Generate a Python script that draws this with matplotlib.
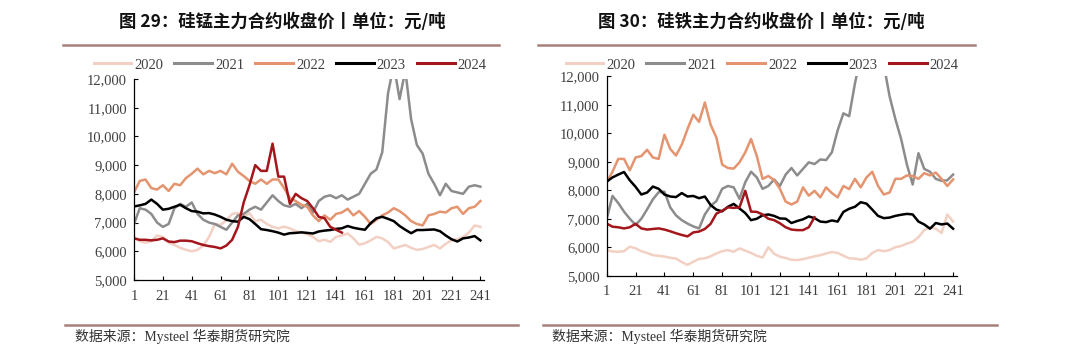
import numpy as np
import matplotlib
matplotlib.use("Agg")
import matplotlib.pyplot as plt
from matplotlib.ticker import FuncFormatter, FixedLocator
from matplotlib.lines import Line2D

# 交易日序号（每4个交易日取一个读数）
days = np.arange(1, 242, 4)
days_2024 = np.arange(1, 146, 4)
xticks = list(range(1, 242, 20))
yticks = list(range(5000, 12001, 1000))
years = ["2020", "2021", "2022", "2023", "2024"]

# 图29 硅锰
simn_2020 = [6500, 6350, 6300, 6350, 6550, 6500, 6300, 6220, 6120, 6050,
             6000, 6050, 6200, 6500, 6950, 6920, 7080, 7300, 7330, 7200,
             7330, 7050, 7100, 6950, 6850, 6800, 6860, 6800, 6700, 6650,
             6600, 6500, 6350, 6400, 6330, 6500, 6550, 6620, 6450, 6230,
             6280, 6380, 6500, 6450, 6320, 6100, 6160, 6220, 6120, 6050,
             6080, 6150, 6220, 6100, 6260, 6380, 6420, 6500, 6650, 6900,
             6850]
simn_2021 = [6950, 7500, 7450, 7300, 7000, 6850, 6950, 7500, 7650, 7550,
             7700, 7300, 7100, 7000, 6950, 6850, 6750, 7000, 7250, 7300,
             7450, 7550, 7450, 7700, 7950, 7750, 7600, 7550, 7650, 7500,
             7650, 7350, 7750, 7900, 7950, 7850, 7950, 7800, 7900, 8000,
             8350, 8700, 8850, 9450, 11500, 12500, 11300, 12300, 10600, 9700,
             9400, 8700, 8350, 7950, 8350, 8100, 8050, 8000, 8250, 8300,
             8250]
simn_2022 = [8050, 8450, 8500, 8200, 8150, 8300, 8100, 8350, 8300, 8550,
             8700, 8880, 8680, 8800, 8720, 8800, 8680, 9050, 8770, 8620,
             8450, 8350, 8500, 8350, 8500, 8500, 8200, 7850, 7750, 7620,
             7550, 7250, 7050, 7250, 7100, 7300, 7350, 7480, 7250, 7400,
             7200, 6950, 7100, 7250, 7350, 7500, 7400, 7250, 7050, 6950,
             6900, 7250, 7300, 7380, 7350, 7500, 7550, 7300, 7500, 7550,
             7750]
simn_2023 = [7560, 7600, 7650, 7800, 7650, 7450, 7480, 7550, 7620, 7500,
             7400, 7380, 7320, 7330, 7280, 7200, 7100, 7050, 7030, 7200,
             7120, 6950, 6770, 6740, 6700, 6650, 6580, 6630, 6640, 6660,
             6640, 6620, 6690, 6720, 6740, 6780, 6800, 6880, 6820, 6780,
             6750, 6980, 7150, 7200, 7130, 7050, 6880, 6750, 6630, 6740,
             6740, 6750, 6760, 6700, 6550, 6420, 6340, 6450, 6480, 6530,
             6380]
simn_2024 = [6450, 6400, 6400, 6380, 6400, 6450, 6340, 6320, 6370, 6370,
             6350, 6280, 6220, 6180, 6150, 6100, 6200, 6400, 6850, 7700,
             8300, 9000, 8800, 8800, 9750, 8600, 8600, 7650, 8000, 7850,
             7750, 7500, 7200, 7150, 6850, 6750, 6650]

# 图30 硅铁
fesi_2020 = [5900, 5850, 5840, 5860, 6020, 5960, 5860, 5800, 5720, 5700,
             5670, 5630, 5600, 5480, 5380, 5490, 5590, 5610, 5680, 5780,
             5860, 5900, 5840, 5960, 5880, 5800, 5700, 5640, 6000, 5770,
             5670, 5620, 5560, 5550, 5580, 5630, 5680, 5720, 5780, 5830,
             5800, 5700, 5610, 5600, 5560, 5610, 5800, 5900, 5860, 5900,
             6000, 6040, 6130, 6190, 6350, 6600, 6700, 6650, 6500, 7150,
             6900]
fesi_2021 = [6990, 7800, 7550, 7250, 7000, 6780, 7000, 7330, 7680, 7930,
             7950, 7400, 7120, 6950, 6830, 6730, 6660, 7150, 7450, 7620,
             8050, 8150, 8100, 7700, 8280, 8650, 8450, 8050, 8150, 8380,
             8150, 8550, 8780, 8520, 8750, 8980, 8920, 9080, 9060, 9330,
             10100, 10700, 10600, 11750, 12700, 13200, 13400, 13000, 12400, 11300,
             10500, 9800, 8900, 8200, 9300, 8750, 8650, 8400, 8330, 8350,
             8550]
fesi_2022 = [8280, 8650, 9100, 9100, 8700, 9150, 9200, 9420, 9150, 9100,
             9950, 9450, 9220, 9600, 10150, 10650, 10400, 11080, 10300, 9850,
             8900, 8780, 8760, 8980, 9330, 9800, 9200, 8400, 8500, 8350,
             8050, 7600, 7500, 7600, 8100, 7810, 7980, 7750, 8100, 7900,
             7750, 8150, 8040, 8400, 8100, 8450, 8650, 8150, 7850, 7920,
             8400, 8400, 8520, 8500, 8400, 8600, 8520, 8620, 8400, 8150,
             8380]
fesi_2023 = [8300, 8450, 8550, 8640, 8350, 8120, 7850, 7920, 8130, 8050,
             7850, 7780, 7760, 7900, 7780, 7800, 7720, 7780, 7480, 7320,
             7260, 7420, 7520, 7360, 7200, 6950, 7000, 7120, 7150, 7100,
             7010, 7000, 6850, 6920, 6980, 7080, 7020, 6900, 6880, 6940,
             6900, 7240, 7350, 7420, 7580, 7530, 7320, 7100, 7020, 7040,
             7100, 7140, 7170, 7150, 6900, 6800, 6650, 6850, 6800, 6830,
             6650]
fesi_2024 = [6830, 6720, 6700, 6660, 6700, 6820, 6660, 6620, 6640, 6660,
             6620, 6560, 6490, 6430, 6380, 6520, 6550, 6640, 6820, 7180,
             7280, 7400, 7380, 7400, 7980, 7250, 7240, 7150, 7000, 6950,
             6840, 6700, 6620, 6600, 6600, 6700, 7050]

COLORS = ["#F2D0C3", "#8C8C8C", "#E4946F", "#000000", "#A3161C"]
RULE = "#A8807A"
TICK_COLOR = "#404040"
SERIF = "Liberation Serif"
CJK = ["Noto Sans CJK SC", "DejaVu Sans"]

fig = plt.figure(figsize=(10.8, 3.61), dpi=100, facecolor="white")


def draw_panel(rect, series, title, title_x, legend_anchor):
    ax = fig.add_axes(rect)
    for i, vals in enumerate(series):
        x = days_2024 if i == 4 else days
        ax.plot(x, vals, color=COLORS[i], linewidth=1.8, solid_joinstyle="round")
    ax.set_xlim(1, 243.5)
    ax.set_ylim(5000, 12000)
    ax.xaxis.set_major_locator(FixedLocator(xticks))
    ax.yaxis.set_major_locator(FixedLocator(yticks))
    ax.yaxis.set_major_formatter(FuncFormatter(lambda v, p: f"{v:,.0f}"))
    ax.tick_params(direction="in", length=3, width=0.8, colors="black",
                   labelcolor=TICK_COLOR, labelsize=10.5)
    ax.tick_params(axis="x", pad=7)
    ax.tick_params(axis="y", pad=5)
    for lab in ax.get_xticklabels() + ax.get_yticklabels():
        lab.set_fontfamily(SERIF)
    for s in ["top", "right"]:
        ax.spines[s].set_visible(False)
    for s in ["left", "bottom"]:
        ax.spines[s].set_linewidth(0.9)
    handles = [Line2D([], [], color=c, linewidth=2.2) for c in COLORS]
    leg = ax.legend(handles, years, ncol=5, loc="center", bbox_to_anchor=legend_anchor,
                    frameon=False, handlelength=2.6, handletextpad=0.2, columnspacing=0.75,
                    prop={"family": SERIF, "size": 10.5})
    for t in leg.get_texts():
        t.set_color(TICK_COLOR)
    fig.text(title_x, 1 - 21.5 / 361, title, ha="center", va="center",
             fontsize=12.5, fontweight="bold", family=CJK, color="#111111")
    return ax


draw_panel([134 / 1080, 1 - 280 / 361, 350 / 1080, 201 / 361],
           [simn_2020, simn_2021, simn_2022, simn_2023, simn_2024],
           "图 29：硅锰主力合约收盘价丨单位：元/吨", 282 / 1080, (0.446, 1.07))
draw_panel([606.7 / 1080, 1 - 275.7 / 361, 350 / 1080, 199.4 / 361],
           [fesi_2020, fesi_2021, fesi_2022, fesi_2023, fesi_2024],
           "图 30：硅铁主力合约收盘价丨单位：元/吨", 761 / 1080, (0.444, 1.057))

# 标题下与来源上方的分隔线
for x0, x1, y in [(63, 499, 44.5), (538, 975, 44.5), (65, 518, 325), (543, 997, 325)]:
    fig.add_artist(Line2D([x0 / 1080, x1 / 1080], [1 - y / 361, 1 - y / 361],
                          color=RULE, linewidth=1.8, transform=fig.transFigure))

for x in [75, 552]:
    fig.text(x / 1080, 1 - 336 / 361, "数据来源：Mysteel 华泰期货研究院", ha="left", va="center",
             fontsize=10, family=[SERIF, "Noto Sans CJK SC"], color="#333333")

fig.savefig("out.png", dpi=100, facecolor="white")
